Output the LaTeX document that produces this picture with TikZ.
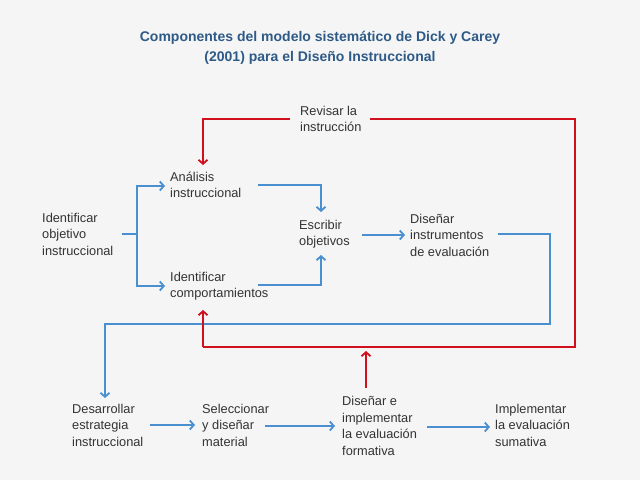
\documentclass[tikz,border=0pt]{standalone}
\usepackage{fontspec}
\setmainfont{Liberation Sans}
\usetikzlibrary{arrows.meta}
\definecolor{bl}{HTML}{4A8FD0}
\definecolor{rd}{HTML}{D0101C}
\definecolor{tt}{HTML}{2E5A88}
\definecolor{tx}{HTML}{333333}
\begin{document}
\begin{tikzpicture}[x=1pt,y=-1pt,
 lab/.style={anchor=west,align=left,inner sep=0pt,text=tx,font=\fontsize{12.8}{16.5}\selectfont},
 bla/.style={draw=bl,line width=1.6pt,-{Straight Barb[length=4pt,width=9pt,line width=1.8pt]}},
 bll/.style={draw=bl,line width=1.6pt},
 rda/.style={draw=rd,line width=1.6pt,-{Straight Barb[length=4pt,width=9pt,line width=1.8pt]}},
 rdl/.style={draw=rd,line width=1.6pt}]
\fill[white!96!black] (0,0) rectangle (640,480);
\useasboundingbox (0,0) rectangle (640,480);
\node[font=\bfseries\fontsize{14}{20}\selectfont,text=tt,align=center] (title) at (320,48) {Componentes del modelo sistemático de Dick y Carey\\(2001) para el Diseño Instruccional};
\node[lab] (id) at (42,234) {Identificar\\objetivo\\instruccional};
\node[lab] (an) at (170,185) {Análisis\\instruccional};
\node[lab] (ic) at (170,286) {Identificar\\comportamientos};
\node[lab] (es) at (299,234) {Escribir\\objetivos};
\node[lab] (di) at (410,235) {Diseñar\\instrumentos\\de evaluación};
\node[lab] (rv) at (300,119) {Revisar la\\instrucción};
\node[lab] (de) at (72,425) {Desarrollar\\estrategia\\instruccional};
\node[lab] (se) at (202,425) {Seleccionar\\y diseñar\\material};
\node[lab] (dm) at (342,426) {Diseñar e\\implementar\\la evaluación\\formativa};
\node[lab] (im) at (495,425) {Implementar\\la evaluación\\sumativa};
% blue
\draw[bll] (122,234) -- (137,234);
\draw[bla] (137,234) |- (165,186);
\draw[bla] (137,234) |- (165,286);
\draw[bla] (258,185) -| (321,212);
\draw[bla] (258,285) -| (321,255);
\draw[bla] (362,235) -- (405,235);
\draw[bla] (498,234) -| (550,324) -| (105,398);
\draw[bla] (150,425) -- (195,425);
\draw[bla] (265,426) -- (335,426);
\draw[bla] (427,427) -- (490,427);
% red
\draw[rda] (366,388) -- (366,351);
\draw[rdl] (203,347) -- (575,347) |- (370,119);
\draw[rda] (203,347) -- (203,310);
\draw[rda] (290,119) -| (203,165);
\end{tikzpicture}
\end{document}
